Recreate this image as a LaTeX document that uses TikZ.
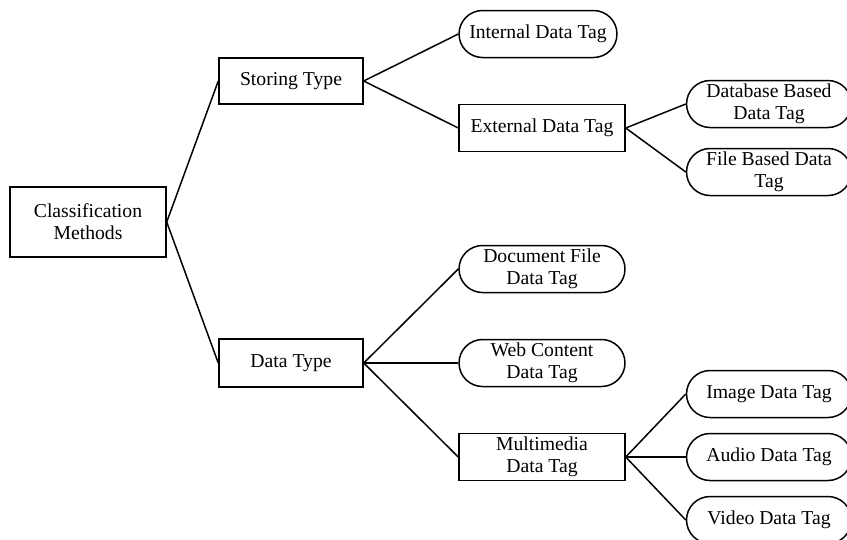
\documentclass[tikz,border=0pt]{standalone}
\usepackage{fontspec}
\setmainfont{Liberation Serif}
\usetikzlibrary{positioning}

\begin{document}
\begin{tikzpicture}[x=0.02cm, y=-0.02cm,
	every node/.style={font=\fontsize{11.2}{12.5}\selectfont, align=center, inner sep=0pt, line width=0.85pt},
	box/.style={draw, rectangle, minimum width=3.32cm, minimum height=0.94cm},
	pill/.style={draw, rectangle, rounded corners=0.47cm, minimum width=3.32cm, minimum height=0.94cm},
	link/.style={line width=0.85pt}]
\useasboundingbox (0, 0) rectangle (847, 539);
\node[box, minimum width=3.12cm, minimum height=1.4cm] (classif) at (88, 222) {Classification\\Methods};
\node[box, minimum width=2.88cm, minimum height=0.92cm] (storing) at (291, 81) {Storing Type};
\node[box, minimum width=2.88cm, minimum height=0.96cm] (datatype) at (291, 363) {Data Type};
\node[pill, minimum width=3.16cm] (internal) at (538, 34) {Internal Data Tag};
\node[box] (external) at (542, 128) {External Data Tag};
\node[pill, minimum width=3.3cm] (database) at (769, 104) {Database Based\\Data Tag};
\node[pill, minimum width=3.3cm] (filebased) at (769, 172) {File Based Data\\Tag};
\node[pill] (document) at (542, 269) {Document File\\Data Tag};
\node[pill] (webcontent) at (542, 363) {Web Content\\Data Tag};
\node[box] (multimedia) at (542, 457) {Multimedia\\Data Tag};
\node[pill, minimum width=3.3cm] (image) at (769, 394) {Image Data Tag};
\node[pill, minimum width=3.3cm] (audio) at (769, 457) {Audio Data Tag};
\node[pill, minimum width=3.3cm] (video) at (769, 520) {Video Data Tag};
\draw[link] (classif.east) -- (storing.west);
\draw[link] (classif.east) -- (datatype.west);
\draw[link] (storing.east) -- (internal.west);
\draw[link] (storing.east) -- (external.west);
\draw[link] (external.east) -- (database.west);
\draw[link] (external.east) -- (filebased.west);
\draw[link] (datatype.east) -- (document.west);
\draw[link] (datatype.east) -- (webcontent.west);
\draw[link] (datatype.east) -- (multimedia.west);
\draw[link] (multimedia.east) -- (image.west);
\draw[link] (multimedia.east) -- (audio.west);
\draw[link] (multimedia.east) -- (video.west);
\end{tikzpicture}
\end{document}
